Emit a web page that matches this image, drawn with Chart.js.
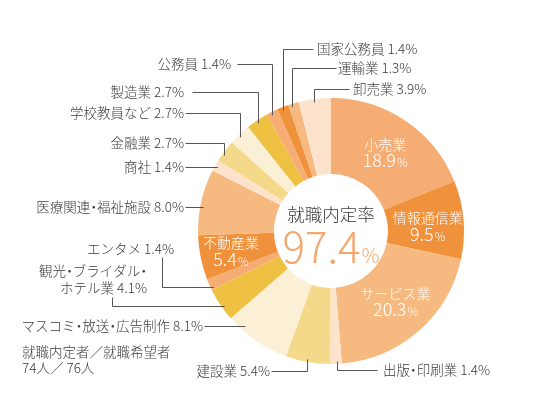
<!DOCTYPE html>
<html lang="ja">
<head>
<meta charset="UTF-8">
<title>就職内定率</title>
<style>
  body { margin: 0; background: #fff; }
  #wrap { position: relative; width: 548px; height: 410px; }
</style>
</head>
<body>
<div id="wrap"><canvas id="chart" width="548" height="410"></canvas></div>
<script src="https://cdn.jsdelivr.net/npm/chart.js"></script>
<script>
// 業種別の内訳（上から時計回り）
const categories = [
  "小売業", "情報通信業", "サービス業", "出版・印刷業", "建設業",
  "マスコミ・放送・広告制作", "観光・ブライダル・ホテル業", "エンタメ", "不動産業",
  "医療関連・福祉施設", "商社", "金融業", "学校教員など", "製造業",
  "公務員", "国家公務員", "運輸業", "卸売業"
]
const shares = [18.9, 9.5, 20.3, 1.4, 5.4, 8.1, 4.1, 1.4, 5.4, 8.0, 1.4, 2.7, 2.7, 2.7, 1.4, 1.4, 1.3, 3.9]
const sliceColors = [
  "#f5ad73", "#f0913b", "#f6b97f", "#fde3cc", "#f5d98b", "#fbf0d5", "#eec142",
  "#f5ad73", "#f0913b", "#f6b97f", "#fde3cc", "#f5d98b", "#fbf0d5", "#eec142",
  "#f5ad73", "#f0913b", "#f6b97f", "#fde3cc"
]
const rateTitle = "就職内定率"
const rateValue = "97.4"
const countNote = ["就職内定者／就職希望者", "74人／ 76人"]

const FONT = '"Noto Sans CJK JP", "Noto Sans", sans-serif'
const TEXT = "#3a3a3a"
const LINE = "#555"

// 円の中に白文字で入るラベル
const insideLabels = [
  { i: 0, dx: 1, dy: 0 },
  { i: 1, dx: 2, dy: 3 },
  { i: 2, dx: 2, dy: -1 },
  { i: 8, dx: -7, dy: 1 },
]

// 外側ラベルと引き出し線（pts: テキスト側の始点と折れ点、最後は円まで）
const outerLabels = [
  { i: 15, x: 317, y: 49, align: "left", pts: [[313, 49], [283, 49]], to: "v" },
  { i: 16, x: 338, y: 68, align: "left", pts: [[336, 68], [292, 68]], to: "v" },
  { i: 17, x: 353, y: 89, align: "left", pts: [[349, 89], [314, 89]], to: "v" },
  { i: 14, x: 231, y: 64, align: "right", pts: [[237, 64], [272, 64]], to: "v" },
  { i: 13, x: 184, y: 92, align: "right", pts: [[192, 92], [258, 92]], to: "v" },
  { i: 12, x: 184, y: 113, align: "right", pts: [[185, 113], [240, 113]], to: "v" },
  { i: 11, x: 184, y: 143, align: "right", pts: [[185, 143], [224, 143]], to: "v" },
  { i: 10, x: 184, y: 167, align: "right", pts: [[185, 167]], to: "h" },
  { i: 9, x: 184, y: 207, align: "right", pts: [[185, 207]], to: "h" },
  { i: 7, x: 174, y: 249, align: "right", pts: [[162, 257], [162, 287]], to: "h" },
  { i: 6, x: 147, y: 271, align: "right", split: 9, pts: [[112, 297], [112, 306]], to: "h" },
  { i: 5, x: 203, y: 326, align: "right", pts: [[204, 326]], to: "h", inset: 7 },
  { i: 4, x: 270, y: 371, align: "right", pts: [[271, 371], [307, 371]], to: "v" },
  { i: 3, x: 383, y: 370, align: "left", pts: [[377, 370], [337, 370]], to: "v" },
]

// 「・」を半角幅で詰めて描く
function fillTight(ctx, text, x, y, align, size) {
  const parts = text.split("・")
  const dotW = size * 0.5
  let w = parts.reduce((s, p) => s + ctx.measureText(p).width, 0) + dotW * (parts.length - 1)
  let px = align === "right" ? x - w : x
  ctx.textAlign = "left"
  parts.forEach((p, k) => {
    ctx.fillText(p, px, y)
    px += ctx.measureText(p).width
    if (k < parts.length - 1) {
      ctx.textAlign = "center"
      ctx.fillText("・", px + dotW / 2, y)
      ctx.textAlign = "left"
      px += dotW
    }
  })
}

const labelPlugin = {
  id: "labels",
  afterDraw(chart) {
    const ctx = chart.ctx
    const arcs = chart.getDatasetMeta(0).data
    const cx = arcs[0].x
    const cy = arcs[0].y
    const R = arcs[0].outerRadius
    ctx.save()

    // 引き出し線
    ctx.strokeStyle = LINE
    ctx.lineWidth = 1
    outerLabels.forEach((o) => {
      const last = o.pts[o.pts.length - 1]
      const inset = o.inset || 3
      let end
      if (o.to === "v") {
        const h = Math.sqrt(R * R - (last[0] - cx) ** 2)
        end = last[1] < cy ? [last[0], cy - h + inset] : [last[0], cy + h - inset]
      } else {
        const w = Math.sqrt(R * R - (last[1] - cy) ** 2)
        end = last[0] < cx ? [cx - w + inset, last[1]] : [cx + w - inset, last[1]]
      }
      ctx.beginPath()
      ctx.moveTo(o.pts[0][0] + 0.5, o.pts[0][1] + 0.5)
      o.pts.slice(1).forEach((p) => ctx.lineTo(p[0] + 0.5, p[1] + 0.5))
      ctx.lineTo(end[0] + 0.5, end[1] + 0.5)
      ctx.stroke()
    })

    // 外側ラベル
    ctx.fillStyle = TEXT
    ctx.font = "300 13.5px " + FONT
    ctx.textBaseline = "middle"
    outerLabels.forEach((o) => {
      const text = categories[o.i] + " " + shares[o.i].toFixed(1) + "%"
      if (o.split) {
        fillTight(ctx, text.slice(0, o.split), o.x, o.y, o.align, 13.5)
        fillTight(ctx, text.slice(o.split), o.x, o.y + 17, o.align, 13.5)
      } else {
        fillTight(ctx, text, o.x, o.y, o.align, 13.5)
      }
    })

    // 内定者数
    ctx.textAlign = "left"
    ctx.fillText(countNote[0], 22, 352)
    ctx.fillText(countNote[1], 22, 368)

    // 円内の白ラベル
    ctx.fillStyle = "#fff"
    insideLabels.forEach((l) => {
      const p = arcs[l.i].tooltipPosition()
      const x = p.x + l.dx
      const y = p.y + l.dy
      ctx.font = "300 14px " + FONT
      ctx.textAlign = "center"
      ctx.textBaseline = "middle"
      ctx.fillText(categories[l.i], x, y - 8)
      const num = shares[l.i].toFixed(1)
      ctx.font = "300 18px " + FONT
      const wn = ctx.measureText(num).width
      ctx.font = "300 12px " + FONT
      const wp = ctx.measureText("%").width
      const left = x - (wn + wp + 1) / 2
      ctx.textAlign = "left"
      ctx.textBaseline = "alphabetic"
      ctx.font = "300 18px " + FONT
      ctx.fillText(num, left, y + 15)
      ctx.font = "300 12px " + FONT
      ctx.fillText("%", left + wn + 1, y + 15)
    })

    // 中央の内定率
    ctx.fillStyle = TEXT
    ctx.font = "300 17.5px " + FONT
    ctx.textAlign = "center"
    ctx.textBaseline = "middle"
    ctx.fillText(rateTitle, cx, cy - 17)
    ctx.fillStyle = "#f5a66b"
    ctx.font = "300 42px " + FONT
    const wv = ctx.measureText(rateValue).width
    ctx.font = "300 20px " + FONT
    const wpc = ctx.measureText("%").width
    const lx = cx - (wv + wpc + 1) / 2
    ctx.textAlign = "left"
    ctx.textBaseline = "alphabetic"
    ctx.font = "300 42px " + FONT
    ctx.fillText(rateValue, lx, cy + 32)
    ctx.font = "300 20px " + FONT
    ctx.fillText("%", lx + wv + 1, cy + 32)

    ctx.restore()
  },
}

new Chart(document.getElementById("chart"), {
  type: "doughnut",
  data: {
    labels: categories,
    datasets: [
      {
        data: shares,
        backgroundColor: sliceColors,
        borderWidth: 0,
        hoverOffset: 0,
        offset: 0,
      },
    ],
  },
  options: {
    responsive: false,
    animation: false,
    events: [],
    radius: 133,
    cutout: 57,
    layout: { padding: { left: 198, right: 84, top: 98, bottom: 46 } },
    plugins: {
      legend: { display: false },
      tooltip: { enabled: false },
    },
  },
  plugins: [labelPlugin],
})
</script>
</body>
</html>
